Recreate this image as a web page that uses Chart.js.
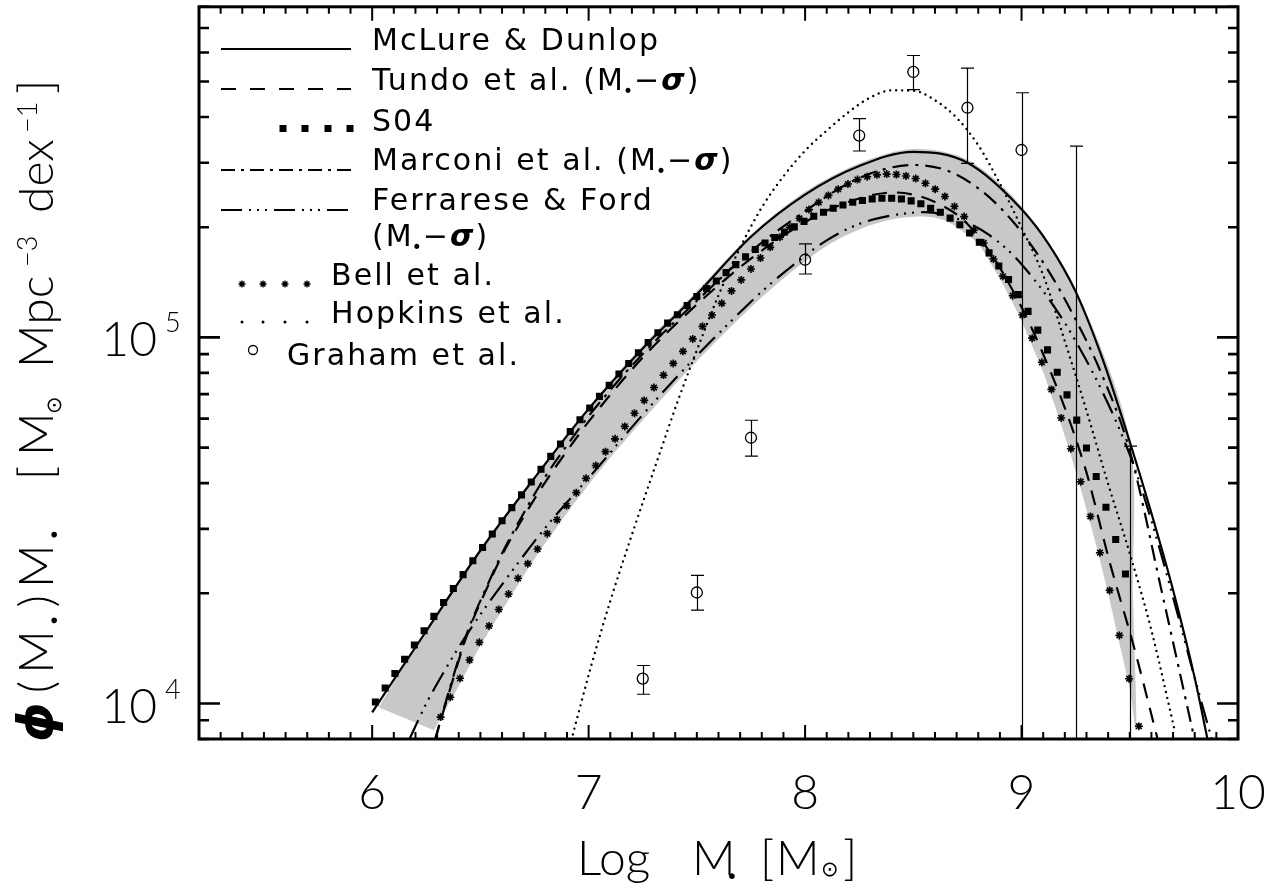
<!DOCTYPE html>
<html>
<head>
<meta charset="utf-8">
<title>Black hole mass function</title>
<script src="https://cdn.jsdelivr.net/npm/chart.js@4.4.1/dist/chart.umd.min.js"></script>
<style>
html,body{margin:0;padding:0;background:#fff;overflow:hidden}
#wrap{position:relative;width:1277px;height:893px}
canvas{display:block}
</style>
</head>
<body>
<div id="wrap"><canvas id="chart" width="1277" height="893"></canvas></div>
<script>
// ---------------- axis ticks ----------------
const xTickValues = [6, 7, 8, 9, 10];
const yMajorValues = [1e4, 1e5];
const yMajorExponents = ['4', '5'];
const yMinorValues = [8e3, 9e3, 2e4, 3e4, 4e4, 5e4, 6e4, 7e4, 8e4, 9e4, 2e5, 3e5, 4e5, 5e5, 6e5, 7e5, 8e5];

// ---------------- series ----------------
// McLure & Dunlop (solid)
const mclureX   = [6.0, 6.25, 6.5, 6.75, 7.0, 7.25, 7.5, 7.75, 8.0, 8.25, 8.5, 8.75, 9.0, 9.125, 9.25, 9.375, 9.5, 9.6, 9.7, 9.8, 9.86];
const mclurePhi = [9.46e3, 1.578e4, 2.618e4, 4.13e4, 6.38e4, 9.333e4, 1.312e5, 1.884e5, 2.455e5, 2.938e5, 3.214e5, 2.999e5, 2.239e5, 1.799e5, 1.334e5, 8.71e4, 5.188e4, 3.311e4, 2.042e4, 1.175e4, 7.943e3];

// Tundo et al. (dashed)
const tundoX   = [6.29, 6.35, 6.44, 6.53, 6.6, 6.7, 6.8, 6.9, 7.0, 7.25, 7.5, 7.75, 8.0, 8.2, 8.41, 8.6, 8.75, 8.9, 9.09, 9.29, 9.41, 9.52, 9.63];
const tundoPhi = [7.943e3, 1.047e4, 1.549e4, 2.065e4, 2.541e4, 3.236e4, 4.027e4, 4.898e4, 5.888e4, 8.81e4, 1.23e5, 1.641e5, 2.065e5, 2.344e5, 2.489e5, 2.344e5, 2.042e5, 1.549e5, 9.29e4, 4.477e4, 2.399e4, 1.422e4, 7.943e3];

// Marconi et al. (dash-dot)
const marconiX   = [6.29, 6.35, 6.44, 6.53, 6.6, 6.7, 6.8, 6.9, 7.0, 7.25, 7.5, 7.75, 8.0, 8.2, 8.35, 8.5, 8.65, 8.81, 8.965, 9.12, 9.24, 9.37, 9.5, 9.65, 9.8];
const marconiPhi = [7.943e3, 1.059e4, 1.567e4, 2.089e4, 2.57e4, 3.311e4, 4.169e4, 5.07e4, 6.095e4, 9.016e4, 1.259e5, 1.718e5, 2.213e5, 2.636e5, 2.864e5, 2.958e5, 2.864e5, 2.529e5, 2.056e5, 1.535e5, 1.148e5, 7.943e4, 4.898e4, 1.995e4, 7.943e3];

// Ferrarese & Ford (dash-dot-dot-dot)
const ferrareseX   = [6.17, 6.25, 6.35, 6.45, 6.6, 6.8, 7.05, 7.2, 7.35, 7.5, 7.65, 7.8, 7.95, 8.1, 8.25, 8.4, 8.55, 8.7, 8.85, 9.0, 9.25, 9.5, 9.6, 9.7, 9.8, 9.88];
const ferrarasePhi = [7.943e3, 1.0e4, 1.274e4, 1.585e4, 2.113e4, 3.02e4, 4.467e4, 5.689e4, 7.161e4, 8.913e4, 1.096e5, 1.334e5, 1.585e5, 1.841e5, 2.042e5, 2.153e5, 2.198e5, 2.113e5, 1.905e5, 1.585e5, 9.772e4, 4.786e4, 3.162e4, 1.95e4, 1.175e4, 7.943e3];

// Hopkins et al. (dotted)
const hopkinsX   = [6.92, 7.01, 7.10, 7.21, 7.32, 7.41, 7.5, 7.6, 7.7, 7.8, 7.9, 8.0, 8.1, 8.2, 8.3, 8.4, 8.5, 8.6, 8.7, 8.8, 8.9, 9.0, 9.1, 9.2, 9.3, 9.4, 9.5, 9.6, 9.71];
const hopkinsPhi = [7.943e3, 1.256e4, 1.905e4, 3.013e4, 4.667e4, 6.653e4, 9.226e4, 1.303e5, 1.758e5, 2.265e5, 2.754e5, 3.236e5, 3.673e5, 4.121e5, 4.519e5, 4.732e5, 4.721e5, 4.446e5, 3.981e5, 3.35e5, 2.63e5, 1.995e5, 1.479e5, 9.772e4, 6.31e4, 3.981e4, 2.57e4, 1.585e4, 8.318e3];

// S04 (filled squares)
const s04X = [6.015, 6.060, 6.105, 6.150, 6.195, 6.240, 6.285, 6.330, 6.375, 6.420,
  6.465, 6.510, 6.555, 6.600, 6.645, 6.690, 6.735, 6.780, 6.825, 6.870,
  6.915, 6.960, 7.005, 7.050, 7.095, 7.140, 7.185, 7.230, 7.275, 7.320,
  7.365, 7.410, 7.455, 7.500, 7.545, 7.590, 7.635, 7.680, 7.725, 7.770,
  7.815, 7.860, 7.905, 7.950, 7.995, 8.040, 8.085, 8.130, 8.175, 8.220,
  8.265, 8.310, 8.355, 8.400, 8.445, 8.490, 8.535, 8.580, 8.625, 8.670,
  8.715, 8.760, 8.805, 8.850, 8.895, 8.940, 8.985, 9.030, 9.075, 9.120,
  9.165, 9.210, 9.255, 9.300, 9.345, 9.390, 9.435, 9.480];
const s04Phi = [1.01e4, 1.102e4, 1.208e4, 1.321e4, 1.445e4, 1.581e4, 1.73e4, 1.888e4, 2.061e4, 2.249e4,
  2.455e4, 2.667e4, 2.904e4, 3.155e4, 3.428e4, 3.715e4, 4.027e4, 4.365e4, 4.732e4, 5.117e4,
  5.534e4, 5.957e4, 6.412e4, 6.902e4, 7.396e4, 7.943e4, 8.492e4, 9.078e4, 9.683e4, 1.03e5,
  1.094e5, 1.153e5, 1.222e5, 1.294e5, 1.361e5, 1.426e5, 1.503e5, 1.581e5, 1.66e5, 1.738e5,
  1.811e5, 1.875e5, 1.941e5, 2.004e5, 2.075e5, 2.143e5, 2.198e5, 2.254e5, 2.301e5, 2.339e5,
  2.366e5, 2.388e5, 2.399e5, 2.399e5, 2.388e5, 2.36e5, 2.317e5, 2.254e5, 2.198e5, 2.118e5,
  2.032e5, 1.928e5, 1.82e5, 1.702e5, 1.567e5, 1.439e5, 1.309e5, 1.178e5, 1.047e5, 9.247e4,
  8.035e4, 6.966e4, 5.943e4, 4.989e4, 4.169e4, 3.436e4, 2.805e4, 2.259e4];

// Bell et al. (asterisks)
const bellX = [6.316, 6.361, 6.406, 6.450, 6.495, 6.540, 6.585, 6.630, 6.674, 6.719,
  6.764, 6.809, 6.854, 6.898, 6.943, 6.988, 7.033, 7.078, 7.122, 7.167,
  7.212, 7.257, 7.302, 7.346, 7.391, 7.436, 7.481, 7.526, 7.570, 7.615,
  7.660, 7.705, 7.750, 7.794, 7.839, 7.884, 7.929, 7.974, 8.018, 8.063,
  8.108, 8.153, 8.198, 8.242, 8.287, 8.332, 8.377, 8.422, 8.466, 8.511,
  8.556, 8.601, 8.646, 8.690, 8.735, 8.780, 8.825, 8.870, 8.914, 8.959,
  9.004, 9.049, 9.094, 9.138, 9.183, 9.228, 9.273, 9.318, 9.362, 9.407,
  9.452, 9.497, 9.542];
const bellPhi = [9.18e3, 1.04e4, 1.172e4, 1.315e4, 1.469e4, 1.629e4, 1.807e4, 1.991e4, 2.198e4, 2.41e4,
  2.642e4, 2.911e4, 3.177e4, 3.467e4, 3.767e4, 4.121e4, 4.467e4, 4.875e4, 5.284e4, 5.715e4,
  6.209e4, 6.73e4, 7.295e4, 7.889e4, 8.492e4, 9.162e4, 9.908e4, 1.072e5, 1.151e5, 1.239e5,
  1.34e5, 1.436e5, 1.538e5, 1.648e5, 1.762e5, 1.879e5, 2.0e5, 2.113e5, 2.234e5, 2.339e5,
  2.443e5, 2.541e5, 2.624e5, 2.698e5, 2.748e5, 2.78e5, 2.793e5, 2.786e5, 2.761e5, 2.716e5,
  2.636e5, 2.541e5, 2.427e5, 2.28e5, 2.138e5, 1.963e5, 1.811e5, 1.637e5, 1.469e5, 1.3e5,
  1.151e5, 9.954e4, 8.551e4, 7.211e4, 6.026e4, 4.966e4, 4.036e4, 3.243e4, 2.582e4, 2.037e4,
  1.535e4, 1.169e4, 8.67e3];

// Graham et al. (open circles with error bars)
const grahamX   = [7.25, 7.5, 7.75, 8.0, 8.25, 8.5, 8.75, 9.0, 9.25, 9.5];
const grahamPhi = [1.17e4, 2.01e4, 5.32e4, 1.63e5, 3.56e5, 5.31e5, 4.24e5, 3.25e5, null, null];
const grahamHi  = [1.27e4, 2.24e4, 5.94e4, 1.80e5, 3.96e5, 5.89e5, 5.44e5, 4.66e5, 3.33e5, 5.05e4];
const grahamLo  = [1.06e4, 1.80e4, 4.74e4, 1.49e5, 3.23e5, 4.75e5, 2.99e5, 0, 0, 0];

// grey uncertainty band outline (upper edge left->right, then lower edge right->left)
const bandX   = [6.03, 6.25, 6.5, 6.75, 7.0, 7.25, 7.5, 7.75, 8.0, 8.25, 8.5, 8.75, 9.0, 9.25, 9.5, 9.515, 9.53,
  9.5, 9.45, 9.4, 9.35, 9.3, 9.25, 9.2, 9.15, 9.1, 9.05, 9.0, 8.95, 8.9, 8.85, 8.8, 8.75, 8.65, 8.55,
  8.4, 8.25, 8.1, 7.95, 7.8, 7.65, 7.5, 7.35, 7.2, 7.05, 6.9, 6.75, 6.6, 6.5, 6.4, 6.285];
const bandPhi = [9.77e3, 1.596e4, 2.649e4, 4.178e4, 6.457e4, 9.506e4, 1.337e5, 1.91e5, 2.5e5, 2.992e5, 3.273e5, 3.055e5, 2.28e5, 1.355e5, 5.25e4, 1.95e4, 8.414e3,
  1.096e4, 1.479e4, 1.995e4, 2.63e4, 3.388e4, 4.315e4, 5.37e4, 6.607e4, 8.035e4, 9.441e4, 1.109e5, 1.274e5, 1.445e5, 1.622e5, 1.799e5, 1.905e5, 2.08e5, 2.138e5,
  2.099e5, 1.972e5, 1.778e5, 1.531e5, 1.288e5, 1.059e5, 8.61e4, 6.918e4, 5.495e4, 4.315e4, 3.311e4, 2.483e4, 1.799e4, 1.435e4, 1.117e4, 8.453e3];

// ---------------- helpers ----------------
const pts = (xs, ys) => xs.map((x, i) => ({x: x, y: ys[i]}));
const LIGHT = '300 48px "Lato", "DejaVu Sans", sans-serif';
const LIGHT_SUP = '300 27px "Lato", "DejaVu Sans", sans-serif';

function drawSegs(ctx, x, y, segs, spacing) {
  ctx.letterSpacing = (spacing || 0) + 'px';
  let cx = x;
  for (const s of segs) {
    ctx.font = s.f;
    ctx.fillText(s.t, cx + (s.dx || 0), y + (s.dy || 0));
    cx += ctx.measureText(s.t).width + (s.dx || 0) + (s.g || 0);
  }
  ctx.letterSpacing = '0px';
  return cx - x;
}

const LEG = '30px "DejaVu Sans", sans-serif';
const LEG_SUB = '17px "DejaVu Sans", sans-serif';
const LEG_SIG = 'italic bold 30px "DejaVu Sans", sans-serif';
const mSigma = [
  {t: '(M', f: LEG},
  {t: '\u2022', f: LEG_SUB, dx: -2, dy: 7, g: -1},
  {t: '\u2212', f: LEG},
  {t: '\u03C3', f: LEG_SIG},
  {t: ')', f: LEG}
];

const chartPlugin = {
  id: 'idlFrame',
  afterDatasetsDraw(chart) {
    const {ctx, chartArea: a, scales: {x, y}} = chart;
    ctx.save();
    // ---- error bars (Graham) ----
    ctx.beginPath();
    ctx.rect(a.left, a.top, a.right - a.left, a.bottom - a.top);
    ctx.clip();
    ctx.strokeStyle = '#000';
    ctx.lineWidth = 1.2;
    grahamX.forEach((gx, i) => {
      const px = Math.round(x.getPixelForValue(gx)) + 0.5;
      const top = y.getPixelForValue(grahamHi[i]);
      const bot = grahamLo[i] > 0 ? y.getPixelForValue(grahamLo[i]) : a.bottom + 5;
      ctx.beginPath();
      ctx.moveTo(px, top); ctx.lineTo(px, bot);
      ctx.moveTo(px - 6.5, top); ctx.lineTo(px + 6.5, top);
      if (grahamLo[i] > 0) { ctx.moveTo(px - 6.5, bot); ctx.lineTo(px + 6.5, bot); }
      ctx.stroke();
    });
    ctx.restore();

    ctx.save();
    ctx.strokeStyle = '#000';
    ctx.fillStyle = '#000';
    // ---- x ticks (bottom and top, pointing inward) ----
    ctx.lineWidth = 2;
    for (let k = 53; k <= 99; k++) {
      const v = k / 10;
      const px = x.getPixelForValue(v);
      const L = (k % 10 === 0) ? 14 : 7;
      ctx.beginPath();
      ctx.moveTo(px, a.bottom); ctx.lineTo(px, a.bottom - L);
      ctx.moveTo(px, a.top); ctx.lineTo(px, a.top + L);
      ctx.stroke();
    }
    // ---- y ticks ----
    ctx.lineWidth = 2.6;
    const yTick = (v, L) => {
      const py = y.getPixelForValue(v);
      ctx.beginPath();
      ctx.moveTo(a.left, py); ctx.lineTo(a.left + L, py);
      ctx.moveTo(a.right, py); ctx.lineTo(a.right - L, py);
      ctx.stroke();
    };
    yMinorValues.forEach(v => yTick(v, 10));
    yMajorValues.forEach(v => yTick(v, 21));
    // ---- frame ----
    ctx.lineWidth = 3;
    ctx.strokeRect(a.left, a.top, a.right - a.left, a.bottom - a.top);

    // ---- y tick labels 10^n ----
    yMajorValues.forEach((v, i) => {
      const py = y.getPixelForValue(v);
      ctx.font = LIGHT; ctx.textAlign = 'right'; ctx.textBaseline = 'alphabetic';
      ctx.fillText('10', 157, py + 19);
      ctx.font = LIGHT_SUP; ctx.textAlign = 'left';
      ctx.fillText(yMajorExponents[i], 165, py - 5);
    });
    ctx.textAlign = 'left';

    // ---- x axis title ----
    ctx.font = LIGHT;
    ctx.fillText('Log', 577, 875);
    ctx.fillText('M', 692, 875);
    ctx.font = '20px "DejaVu Sans", sans-serif';
    ctx.fillText('\u2022', 726, 883);
    ctx.font = LIGHT;
    ctx.fillText('[', 760, 875);
    ctx.fillText('M', 776, 875);
    ctx.font = '21px "DejaVu Sans", sans-serif';
    ctx.fillText('\u2299', 821, 876);
    ctx.font = LIGHT;
    ctx.fillText(']', 843, 875);

    // ---- y axis title (rotated) ----
    ctx.save();
    ctx.translate(53, 742);
    ctx.rotate(-Math.PI / 2);
    const SUBD = '20px "DejaVu Sans", sans-serif';
    drawSegs(ctx, 0, 0, [
      {t: '\u03D5', f: 'italic bold 50px "DejaVu Sans", sans-serif', g: 2},
      {t: '(', f: LIGHT},
      {t: 'M', f: LIGHT},
      {t: '\u2022', f: SUBD, dx: -3, dy: 8},
      {t: ')', f: LIGHT},
      {t: 'M', f: LIGHT},
      {t: '\u2022', f: SUBD, dx: -3, dy: 8}
    ], 7);
    ctx.font = LIGHT;
    ctx.fillText('[', 262, 0);
    ctx.fillText('M', 286, 0);
    ctx.font = '21px "DejaVu Sans", sans-serif';
    ctx.fillText('\u2299', 328, 8);
    ctx.font = LIGHT;
    ctx.fillText('Mpc', 374, 0);
    ctx.font = LIGHT_SUP;
    ctx.fillText('\u22123', 475, -16);
    ctx.font = LIGHT;
    ctx.fillText('dex', 529, 0);
    ctx.font = LIGHT_SUP;
    ctx.fillText('\u22121', 609, -16);
    ctx.font = LIGHT;
    ctx.fillText(']', 648, 0);
    ctx.restore();

    // ---- legend ----
    ctx.font = LEG;
    const natural = ctx.measureText('McLure & Dunlop').width;
    const sp = Math.max(-1, Math.min(4, (286 - natural) / 14));
    const lineSample = (yy, dash) => {
      ctx.save();
      ctx.lineWidth = 2.2;
      ctx.setLineDash(dash);
      ctx.beginPath(); ctx.moveTo(221, yy); ctx.lineTo(351, yy); ctx.stroke();
      ctx.restore();
    };
    lineSample(49, []);
    drawSegs(ctx, 372, 50, [{t: 'McLure & Dunlop', f: LEG}], sp);
    lineSample(89, [15, 14]);
    drawSegs(ctx, 372, 90, [{t: 'Tundo et al. ', f: LEG}].concat(mSigma), sp);
    [283, 305, 328, 350].forEach(cx => ctx.fillRect(cx - 3.5, 125, 7, 7));
    drawSegs(ctx, 372, 131, [{t: 'S04', f: LEG}], sp);
    lineSample(170, [14, 6, 3, 6]);
    drawSegs(ctx, 372, 170, [{t: 'Marconi et al. ', f: LEG}].concat(mSigma), sp);
    lineSample(210, [21, 7, 2, 6, 2, 6, 2, 7]);
    drawSegs(ctx, 372, 210, [{t: 'Ferrarese & Ford', f: LEG}], sp);
    drawSegs(ctx, 372, 246, mSigma, sp);
    ctx.lineWidth = 1.4;
    [242, 263, 285, 307].forEach(cx => {
      const r = 3.5, d = r * Math.SQRT1_2;
      ctx.beginPath();
      ctx.moveTo(cx - r, 284); ctx.lineTo(cx + r, 284);
      ctx.moveTo(cx, 284 - r); ctx.lineTo(cx, 284 + r);
      ctx.moveTo(cx - d, 284 - d); ctx.lineTo(cx + d, 284 + d);
      ctx.moveTo(cx - d, 284 + d); ctx.lineTo(cx + d, 284 - d);
      ctx.stroke();
    });
    drawSegs(ctx, 331, 285, [{t: 'Bell et al.', f: LEG}], sp);
    [242, 263, 285, 307].forEach(cx => { ctx.beginPath(); ctx.arc(cx, 322, 1.5, 0, Math.PI * 2); ctx.fill(); });
    drawSegs(ctx, 331, 323, [{t: 'Hopkins et al.', f: LEG}], sp);
    ctx.lineWidth = 1.3;
    ctx.beginPath(); ctx.arc(253, 350, 4.5, 0, Math.PI * 2); ctx.stroke();
    drawSegs(ctx, 287, 365, [{t: 'Graham et al.', f: LEG}], sp);
    ctx.restore();
  }
};

const lineBase = {showLine: true, pointRadius: 0, borderColor: '#000', borderWidth: 2.2,
  cubicInterpolationMode: 'monotone', fill: false, clip: 0};

new Chart(document.getElementById('chart'), {
  type: 'scatter',
  data: {
    datasets: [
      Object.assign({}, lineBase, {label: 'McLure & Dunlop', data: pts(mclureX, mclurePhi), order: 1}),
      Object.assign({}, lineBase, {label: 'Tundo et al.', data: pts(tundoX, tundoPhi), borderDash: [15, 10], order: 2}),
      Object.assign({}, lineBase, {label: 'Marconi et al.', data: pts(marconiX, marconiPhi), borderDash: [16, 7, 3, 7], order: 3}),
      Object.assign({}, lineBase, {label: 'Ferrarese & Ford', data: pts(ferrareseX, ferrarasePhi), borderDash: [22, 7, 2, 6, 2, 6, 2, 7], order: 4}),
      Object.assign({}, lineBase, {label: 'Hopkins et al.', data: pts(hopkinsX, hopkinsPhi), borderDash: [0, 6], borderCapStyle: 'round', borderWidth: 2.4, order: 5}),
      {label: 'S04', data: pts(s04X, s04Phi), showLine: false, pointStyle: 'rect', pointRadius: 5, pointBackgroundColor: '#000', pointBorderWidth: 0, pointBorderColor: '#000', clip: 0, order: 6},
      {label: 'Bell et al.', data: pts(bellX, bellPhi), showLine: false, pointStyle: 'star', pointRadius: 4, pointBorderColor: '#000', pointBorderWidth: 1.6, clip: 0, order: 7},
      {label: 'Graham et al.', data: pts(grahamX, grahamPhi), showLine: false, pointStyle: 'circle', pointRadius: 5.5, pointBorderColor: '#000', pointBackgroundColor: 'rgba(0,0,0,0)', pointBorderWidth: 1.3, clip: 0, order: 8},
      {label: 'band', data: pts(bandX, bandPhi), showLine: true, pointRadius: 0, borderWidth: 0, borderColor: 'rgba(0,0,0,0)',
        backgroundColor: 'rgb(200,200,200)', fill: 'shape', tension: 0.3, clip: 0, order: 20}
    ]
  },
  options: {
    responsive: false,
    devicePixelRatio: 1,
    animation: false,
    layout: {padding: {top: 3, right: 39, left: 0, bottom: 0}},
    plugins: {legend: {display: false}, tooltip: {enabled: false}},
    events: [],
    scales: {
      x: {
        type: 'linear', min: 5.2, max: 10,
        grid: {display: false, drawTicks: false},
        border: {display: false},
        afterBuildTicks: s => { s.ticks = xTickValues.map(v => ({value: v})); },
        afterFit: s => { s.height = 154; s.paddingLeft = 0; s.paddingRight = 0; },
        ticks: {color: '#000', font: {family: '"Lato", "DejaVu Sans", sans-serif', size: 48, weight: 300, lineHeight: 1},
          padding: 31, maxRotation: 0, autoSkip: false, callback: v => String(v)}
      },
      y: {
        type: 'logarithmic', min: 8000, max: 8e5,
        grid: {display: false, drawTicks: false},
        border: {display: false},
        ticks: {display: false},
        afterFit: s => { s.width = 199; s.paddingTop = 0; s.paddingBottom = 0; }
      }
    }
  },
  plugins: [chartPlugin]
});
</script>
</body>
</html>
